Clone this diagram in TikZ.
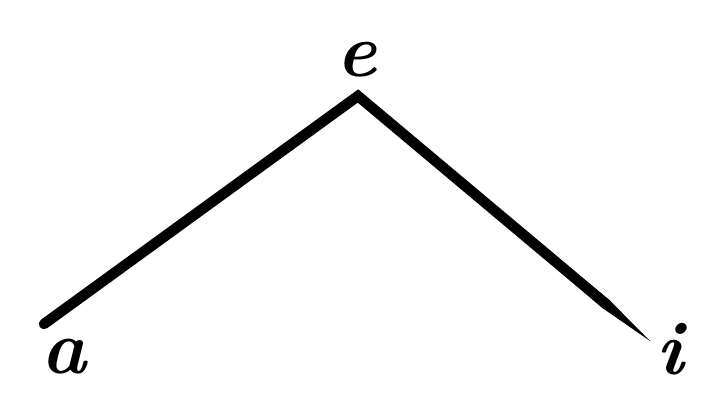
\documentclass[tikz,border=0pt]{standalone}
\usetikzlibrary{calc}
\begin{document}
\begin{tikzpicture}[x=1pt,y=1pt,
  lbl/.style={inner sep=0pt,font=\fontsize{76}{80}\selectfont\bfseries\itshape},
  stroke/.style={line width=10.5pt,line join=miter,line cap=round}]
\useasboundingbox (0,0) rectangle (717,417);
\coordinate (A) at (44,93);
\coordinate (E) at (358,321);
\coordinate (I) at (650,76);
\node[lbl] (la) at (64,60) {a};
\node[lbl] (le) at (357,357) {e};
\node[lbl] (li) at (670,68) {i};
\draw[stroke] (A) -- (E) -- ($(E)!0.85!(I)$);
\fill (E) -- ($(E)!0.85!(I)+(3.4,4)$) -- (I) -- ($(E)!0.85!(I)+(-3.4,-4)$) -- cycle;
\end{tikzpicture}
\end{document}
